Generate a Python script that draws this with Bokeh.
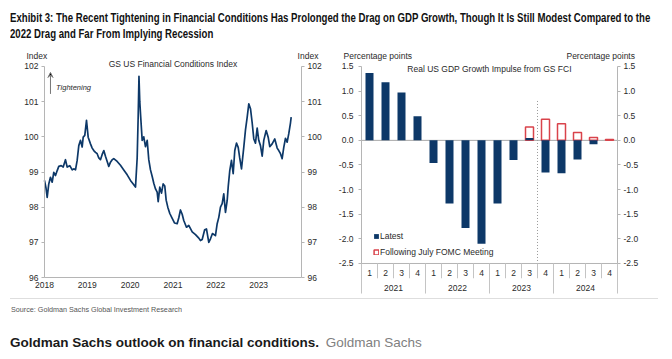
from bokeh.plotting import figure
from bokeh.models import (Range1d, FactorRange, LinearAxis, FixedTicker, Label, Arrow,
                          VeeHead, Div, Legend, LegendItem, PrintfTickFormatter)
from bokeh.layouts import column, row
from bokeh.embed import file_html
from bokeh.resources import INLINE
from bokeh.core.properties import value

FONT = "Liberation Sans"
NAVY = "#0d3868"
RED = "#d9434b"
AXIS = "#b5b5b5"
TXT = "#2a2a2a"

# ---------------- data: GS US Financial Conditions Index ----------------
fci_time = [
    2018.000, 2018.035, 2018.063, 2018.100, 2018.140, 2018.180, 2018.217, 2018.257,
    2018.297, 2018.334, 2018.390, 2018.437, 2018.490, 2018.530, 2018.591, 2018.647,
    2018.684, 2018.724, 2018.763, 2018.801, 2018.841, 2018.880, 2018.904, 2018.941,
    2018.981, 2019.020, 2019.074, 2019.114, 2019.151, 2019.191, 2019.230, 2019.268,
    2019.307, 2019.347, 2019.385, 2019.424, 2019.464, 2019.501, 2019.541, 2019.581,
    2019.618, 2019.697, 2019.774, 2019.851, 2019.931, 2020.008, 2020.085, 2020.125,
    2020.164, 2020.188, 2020.206, 2020.225, 2020.246, 2020.281, 2020.318, 2020.358,
    2020.398, 2020.435, 2020.475, 2020.515, 2020.552, 2020.592, 2020.631, 2020.655,
    2020.692, 2020.732, 2020.771, 2020.809, 2020.841, 2020.879, 2020.926, 2020.982,
    2021.035, 2021.098, 2021.136, 2021.175, 2021.215, 2021.252, 2021.315, 2021.369,
    2021.449, 2021.526, 2021.603, 2021.642, 2021.682, 2021.740, 2021.782, 2021.836,
    2021.876, 2021.922, 2021.992, 2022.032, 2022.070, 2022.109, 2022.149, 2022.186,
    2022.226, 2022.266, 2022.291, 2022.326, 2022.366, 2022.406, 2022.443, 2022.483,
    2022.523, 2022.558, 2022.600, 2022.653, 2022.693, 2022.733, 2022.770, 2022.810,
    2022.849, 2022.887, 2022.926, 2022.966, 2023.003, 2023.043, 2023.083, 2023.120,
    2023.176, 2023.223, 2023.260, 2023.316, 2023.377, 2023.433, 2023.470, 2023.510,
    2023.549, 2023.587, 2023.627, 2023.666, 2023.704, 2023.744, 2023.760,
]
fci_value = [
    98.76, 98.55, 98.28, 98.66, 98.85, 98.71, 98.99, 98.90,
    99.04, 99.16, 99.18, 99.14, 99.35, 99.14, 99.18, 99.06,
    99.09, 99.06, 99.33, 99.75, 99.90, 99.71, 99.99, 100.04,
    100.47, 99.99, 99.80, 99.68, 99.61, 99.56, 99.52, 99.40,
    99.35, 99.50, 99.61, 99.45, 99.30, 99.16, 99.28, 99.35,
    99.38, 99.30, 99.19, 99.06, 98.92, 98.76, 98.64, 98.57,
    99.40, 100.60, 101.72, 101.00, 100.58, 99.90, 100.00, 99.72,
    99.90, 99.35, 99.06, 98.87, 98.68, 98.52, 98.43, 98.16,
    98.57, 98.40, 98.66, 98.60, 98.20, 98.00, 97.82, 97.68,
    97.55, 97.53, 97.70, 97.92, 97.80, 97.62, 97.43, 97.48,
    97.30, 97.22, 97.12, 97.05, 97.08, 97.36, 97.38, 97.00,
    97.10, 97.25, 97.19, 97.53, 97.71, 98.00, 98.10, 98.38,
    97.85, 98.19, 98.60, 99.04, 99.33, 98.95, 99.61, 99.82,
    99.70, 99.40, 99.09, 99.70, 100.20, 100.56, 100.94, 100.80,
    100.40, 99.94, 99.82, 100.25, 99.90, 99.75, 99.45, 99.90,
    100.18, 99.99, 99.72, 99.80, 99.94, 99.68, 99.61, 99.52,
    99.38, 99.70, 99.96, 99.85, 100.09, 100.40, 100.56,
]
fci_year_ticks = [2018, 2019, 2020, 2021, 2022, 2023]
fci_index_ticks = [96, 97, 98, 99, 100, 101, 102]
fci_x_bounds = (2018, 2024)
fci_y_bounds = (96, 102)

# ---------------- data: GDP growth impulse from GS FCI ----------------
years = ["2021", "2022", "2023", "2024"]
quarters = ["1", "2", "3", "4"]
latest = [1.37, 1.18, 0.97, 0.49,
          -0.46, -1.28, -1.78, -2.10,
          -1.28, -0.40, 0.05, -0.65,
          -0.67, -0.39, -0.08, 0.00]
following_start = 10          # first quarter shown for the July-FOMC series (2023 Q3)
following = [0.27, 0.43, 0.34, 0.16, 0.06, 0.02]
impulse_ticks = [-2.5, -2.0, -1.5, -1.0, -0.5, 0.0, 0.5, 1.0, 1.5]
impulse_bounds = (-2.5, 1.5)


def style_axis(ax, tick_out=3, standoff=3):
    ax.axis_line_color = AXIS
    ax.major_tick_line_color = AXIS
    ax.major_tick_out = tick_out
    ax.major_tick_in = 0
    ax.minor_tick_line_color = None
    ax.major_label_text_font = FONT
    ax.major_label_text_font_size = "8.5px"
    ax.major_label_text_color = TXT
    ax.major_label_standoff = standoff


def data_label(p, x, y, text, align="left", size="8.5px", style="normal"):
    p.add_layout(Label(x=x, y=y, text=text, text_align=align, text_baseline="middle",
                       text_font=FONT, text_font_size=size, text_color=TXT,
                       text_font_style=style))


def prep(p):
    if "frame_align" in p.properties():
        p.frame_align = False
    p.grid.visible = False
    p.outline_line_color = None
    p.background_fill_color = "white"
    p.border_fill_color = "white"


# ---------------- left chart (frame fills the figure; axes pinned inside) ----------------
p1 = figure(width=330, height=254,
            x_range=Range1d(2016.973, 2024.678), y_range=Range1d(95.403, 102.6255),
            output_backend="svg", toolbar_location=None,
            min_border_left=0, min_border_right=0, min_border_top=0, min_border_bottom=0)
prep(p1)
p1.line(fci_time, fci_value, line_color=NAVY, line_width=1.7, line_join="round")

p1.xaxis.ticker = FixedTicker(ticks=fci_year_ticks)
p1.xaxis.formatter = PrintfTickFormatter(format="%d")
p1.xaxis.fixed_location = fci_y_bounds[0]
p1.xaxis.bounds = fci_x_bounds
style_axis(p1.xaxis[0], tick_out=0, standoff=4)
p1.yaxis.ticker = FixedTicker(ticks=fci_index_ticks)
p1.yaxis.fixed_location = fci_x_bounds[0]
p1.yaxis.bounds = fci_y_bounds
style_axis(p1.yaxis[0], tick_out=3, standoff=3)
ry1 = LinearAxis(ticker=FixedTicker(ticks=fci_index_ticks), fixed_location=fci_x_bounds[1],
                 bounds=fci_y_bounds)
style_axis(ry1, tick_out=3, standoff=3)
p1.add_layout(ry1, "right")

data_label(p1, 2017.58, 102.31, "Index")
data_label(p1, 2023.91, 102.31, "Index")
data_label(p1, 2021.0, 102.085, "GS US Financial Conditions Index", align="center")
p1.add_layout(Arrow(x_start=2018.14, y_start=101.22, x_end=2018.14, y_end=101.83,
                    line_color="#777777", line_width=1,
                    end=VeeHead(size=5, line_color="#777777", line_width=1)))
p1.add_layout(Label(x=2018.27, y=101.4, text="Tightening", text_font=FONT,
                    text_font_size="7.5px", text_font_style="italic", text_color=TXT,
                    text_baseline="middle"))

# ---------------- right chart ----------------
factors = [(y, q) for y in years for q in quarters]
n = len(factors)
xr = FactorRange(factors=factors, factor_padding=0, group_padding=0,
                 range_padding=1.9375, range_padding_units="absolute")
p2 = figure(width=334, height=254, x_range=xr, y_range=Range1d(-3.2107, 1.9467),
            output_backend="svg", toolbar_location=None,
            min_border_left=0, min_border_right=16, min_border_top=0, min_border_bottom=0)
prep(p2)
p2.xaxis.visible = False

# zero line and category floor
p2.segment(x0=[0, 0], y0=[0, impulse_bounds[0]], x1=[n, n], y1=[0, impulse_bounds[0]],
           line_color=["#a8a8a8", AXIS], line_width=1)
r_follow = p2.vbar(x=factors[following_start:], top=following, bottom=0, width=0.5,
                   fill_color="white", line_color=RED, line_width=1.5)
r_latest = p2.vbar(x=factors, top=latest, bottom=0, width=0.5,
                   fill_color=NAVY, line_color=None)

# forecast divider (between 2023 Q3 and Q4)
p2.segment(x0=[following_start + 1], y0=[0.8], x1=[following_start + 1],
           y1=[impulse_bounds[0]], line_color="#9a9a9a", line_width=1, line_dash="1 2")

# category labels (quarter / year) with separators under the -2.5 floor
p2.text(x=factors, y=[-2.69] * n, text=[q for _, q in factors],
        text_align="center", text_baseline="middle", text_font=value(FONT),
        text_font_size="8.5px", text_color=TXT)
year_centers = [4 * i + 2 for i in range(len(years))]
p2.text(x=year_centers, y=[-3.0] * len(years), text=years,
        text_align="center", text_baseline="middle", text_font=value(FONT),
        text_font_size="8.5px", text_color=TXT)
q_sep = [i for i in range(1, n) if i % 4 != 0]
y_sep = list(range(0, n + 1, 4))
p2.segment(x0=q_sep, y0=[impulse_bounds[0]] * len(q_sep), x1=q_sep, y1=[-2.8] * len(q_sep),
           line_color="#c4c4c4", line_width=1)
p2.segment(x0=y_sep, y0=[impulse_bounds[0]] * len(y_sep), x1=y_sep, y1=[-3.11] * len(y_sep),
           line_color="#c4c4c4", line_width=1)

p2.yaxis.ticker = FixedTicker(ticks=impulse_ticks)
p2.yaxis.formatter = PrintfTickFormatter(format="%.1f")
p2.yaxis.bounds = impulse_bounds
p2.yaxis.fixed_location = 0
style_axis(p2.yaxis[0], tick_out=3, standoff=5)
ry2 = LinearAxis(ticker=FixedTicker(ticks=impulse_ticks),
                 formatter=PrintfTickFormatter(format="%.1f"), bounds=impulse_bounds,
                 fixed_location=n)
style_axis(ry2, tick_out=3, standoff=3)
p2.add_layout(ry2, "right")

data_label(p2, -1.125, 1.709, "Percentage points")
data_label(p2, 12.81, 1.709, "Percentage points")
data_label(p2, 8.0, 1.459, "Real US GDP Growth Impulse from GS FCI", align="center")

legend = Legend(items=[LegendItem(label="Latest", renderers=[r_latest]),
                       LegendItem(label="Following July FOMC Meeting", renderers=[r_follow])],
                location=(43, 41), glyph_width=6, glyph_height=6, label_standoff=1,
                label_height=10, label_width=10, spacing=6, padding=0, margin=0,
                border_line_color=None, background_fill_alpha=0,
                label_text_font=FONT, label_text_font_size="8.5px",
                label_text_color=TXT)
p2.add_layout(legend)

# ---------------- texts ----------------
title_html = (
    "<div style=\"padding:10px 0 0 10px;line-height:0;font-size:0;\">"
    "<div style=\"display:block;width:max-content;transform:scaleX(0.770);transform-origin:0 0;"
    "font-family:'Liberation Sans',sans-serif;font-weight:bold;font-size:12.5px;"
    "line-height:16px;color:#111;white-space:nowrap;\">"
    "Exhibit 3: The Recent Tightening in Financial Conditions Has Prolonged the Drag on GDP "
    "Growth, Though It Is Still Modest Compared to the<br>"
    "2022 Drag and Far From Implying Recession</div></div>"
)
title_div = Div(text=title_html, width=664, height=44, margin=0)

footer_html = (
    "<div style=\"margin-left:10px;width:648px;border-top:1px solid #dedede;\"></div>"
    "<div style=\"margin:6px 0 0 11px;line-height:0;font-size:0;\">"
    "<div style=\"display:block;width:max-content;transform:scaleX(0.9);transform-origin:0 0;"
    "font-family:'Liberation Sans',sans-serif;font-size:8px;line-height:10px;color:#555;"
    "white-space:nowrap;\">Source: Goldman Sachs Global Investment Research</div></div>"
    "<div style=\"font-family:'Liberation Sans',sans-serif;font-size:13.5px;line-height:16px;"
    "margin:20px 0 0 10px;white-space:nowrap;color:#1a1a1a;\">"
    "<b>Goldman Sachs outlook on financial conditions.</b>&nbsp;"
    "<span style=\"color:#808080;margin-left:3px;\">Goldman Sachs</span></div>"
)
footer_div = Div(text=footer_html, width=664, height=61, margin=0)

layout = column(title_div, row(p1, p2, spacing=0), footer_div, spacing=0)
open("out.html", "w").write(file_html(layout, INLINE))
